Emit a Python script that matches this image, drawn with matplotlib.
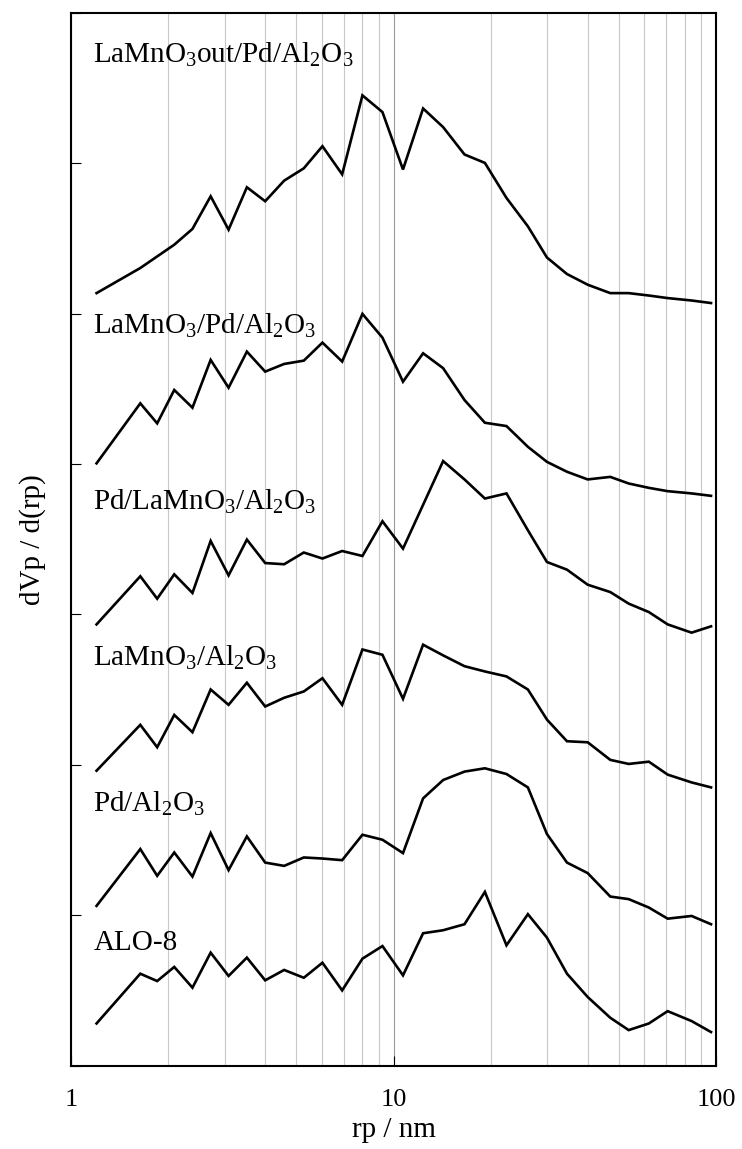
import matplotlib
matplotlib.use('Agg')
import matplotlib.pyplot as plt
from matplotlib.ticker import LogLocator, NullFormatter, FixedLocator

plt.rcParams['font.family'] = ['Liberation Serif', 'DejaVu Serif']
plt.rcParams['mathtext.fontset'] = 'custom'
plt.rcParams['mathtext.rm'] = 'Liberation Serif'
plt.rcParams['mathtext.it'] = 'Liberation Serif:italic'

# pore radius (nm), shared by all curves
rp = [1.20, 1.64, 1.85, 2.09, 2.38, 2.71, 3.08, 3.51, 4.00, 4.58, 5.27,
      6.02, 6.93, 8.01, 9.24, 10.7, 12.35, 14.25, 16.6, 19.2, 22.4, 26.1,
      29.9, 34.5, 40.0, 47.0, 53.6, 61.9, 70.8, 84.0, 96.5]

# dVp/d(rp), already offset for stacking (a.u.)
lamno3out_pd = [5.137, 5.304, 5.381, 5.459, 5.564, 5.781, 5.559, 5.841, 5.748, 5.885, 5.967,
                6.114, 5.927, 6.452, 6.341, 5.959, 6.365, 6.241, 6.059, 6.003, 5.770, 5.581,
                5.374, 5.264, 5.193, 5.137, 5.137, 5.121, 5.104, 5.088, 5.071]
lamno3_pd = [4.005, 4.404, 4.271, 4.493, 4.375, 4.693, 4.508, 4.748, 4.615, 4.666, 4.688,
             4.808, 4.682, 4.999, 4.841, 4.548, 4.737, 4.638, 4.426, 4.275, 4.253, 4.115,
             4.015, 3.949, 3.898, 3.915, 3.871, 3.842, 3.820, 3.805, 3.789]
pd_lamno3 = [2.934, 3.254, 3.105, 3.267, 3.143, 3.489, 3.260, 3.498, 3.342, 3.334, 3.412,
             3.372, 3.422, 3.389, 3.620, 3.438, 3.729, 4.020, 3.898, 3.771, 3.805, 3.560,
             3.349, 3.298, 3.198, 3.149, 3.072, 3.016, 2.934, 2.879, 2.921]
lamno3 = [1.961, 2.266, 2.117, 2.332, 2.217, 2.501, 2.399, 2.546, 2.388, 2.446, 2.488,
          2.576, 2.399, 2.767, 2.732, 2.439, 2.799, 2.728, 2.656, 2.621, 2.588, 2.501,
          2.301, 2.157, 2.150, 2.033, 2.006, 2.021, 1.935, 1.883, 1.850]
pd_al = [1.062, 1.440, 1.262, 1.417, 1.257, 1.546, 1.300, 1.524, 1.350, 1.328, 1.384,
         1.377, 1.366, 1.535, 1.502, 1.413, 1.777, 1.899, 1.955, 1.977, 1.939, 1.850,
         1.540, 1.350, 1.280, 1.124, 1.107, 1.051, 0.977, 0.995, 0.940]
alo8 = [0.280, 0.611, 0.562, 0.656, 0.518, 0.751, 0.596, 0.718, 0.567, 0.636, 0.584,
        0.684, 0.500, 0.711, 0.795, 0.600, 0.880, 0.900, 0.940, 1.155, 0.800, 1.007,
        0.851, 0.611, 0.456, 0.318, 0.236, 0.280, 0.362, 0.296, 0.223]

curves = [lamno3out_pd, lamno3_pd, pd_lamno3, lamno3, pd_al, alo8]
labels = [r'LaMnO$_\mathrm{3}$out/Pd/Al$_\mathrm{2}$O$_\mathrm{3}$',
          r'LaMnO$_\mathrm{3}$/Pd/Al$_\mathrm{2}$O$_\mathrm{3}$',
          r'Pd/LaMnO$_\mathrm{3}$/Al$_\mathrm{2}$O$_\mathrm{3}$',
          r'LaMnO$_\mathrm{3}$/Al$_\mathrm{2}$O$_\mathrm{3}$',
          r'Pd/Al$_\mathrm{2}$O$_\mathrm{3}$',
          'ALO-8']
label_y = [6.67, 4.864, 3.693, 2.661, 1.69, 0.767]

fig = plt.figure(figsize=(7.42, 11.49), dpi=100)
ax = fig.add_axes([0.0957, 0.0726, 0.8693, 0.9161])

for ys in curves:
    ax.plot(rp, ys, color='black', lw=1.9, solid_joinstyle='miter')

for lab, yl in zip(labels, label_y):
    ax.text(1.172, yl, lab, fontsize=21, va='baseline', ha='left')

ax.set_xscale('log')
ax.set_xlim(1, 100)
ax.set_ylim(0, 7)
ax.xaxis.set_major_locator(FixedLocator([1, 10, 100]))
ax.xaxis.set_major_formatter(plt.FuncFormatter(lambda v, p: '%d' % v))
ax.xaxis.set_minor_locator(LogLocator(base=10, subs=range(2, 10)))
ax.xaxis.set_minor_formatter(NullFormatter())
ax.set_yticks(range(0, 8))
ax.set_yticklabels([])

ax.grid(True, which='minor', axis='x', color='#c8c8c8', lw=0.8)
ax.grid(True, which='major', axis='x', color='#999999', lw=0.8)
ax.set_axisbelow(True)

ax.tick_params(axis='both', which='major', direction='in', length=7, width=0.8,
               labelsize=19)
ax.tick_params(axis='x', which='major', pad=17)
ax.tick_params(axis='y', which='major', pad=12)
ax.tick_params(axis='x', which='minor', length=0)
for s in ax.spines.values():
    s.set_linewidth(1.5)

ax.set_xlabel('rp / nm', fontsize=21, labelpad=4)
ax.set_ylabel('dVp / d(rp)', fontsize=21, labelpad=6)

fig.savefig('out.png', dpi=100)
